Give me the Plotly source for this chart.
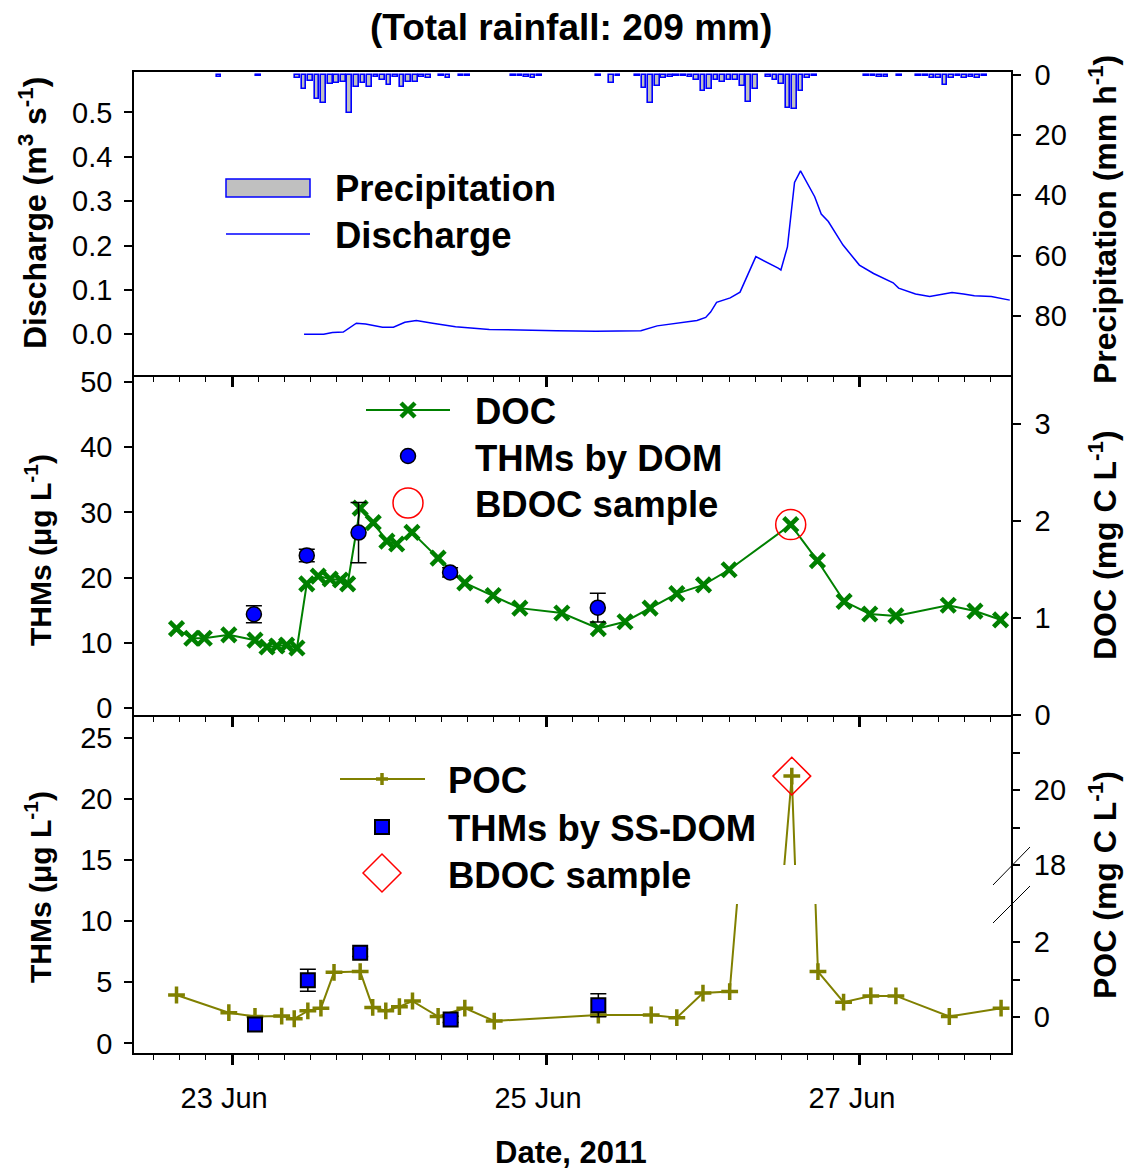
import plotly.graph_objects as go

# ---------------- data ----------------
precip_time = ["2011-06-22 22:00", "2011-06-23 04:00", "2011-06-23 10:00", "2011-06-23 11:00", "2011-06-23 12:00",
               "2011-06-23 13:00", "2011-06-23 14:00", "2011-06-23 15:00", "2011-06-23 16:00", "2011-06-23 17:00",
               "2011-06-23 18:00", "2011-06-23 19:00", "2011-06-23 20:00", "2011-06-23 21:00", "2011-06-23 22:00",
               "2011-06-23 23:00",
               "2011-06-24 00:00", "2011-06-24 01:00", "2011-06-24 02:00", "2011-06-24 03:00", "2011-06-24 04:00",
               "2011-06-24 05:00", "2011-06-24 06:00", "2011-06-24 08:00", "2011-06-24 09:00", "2011-06-24 11:00",
               "2011-06-24 12:00", "2011-06-24 19:00", "2011-06-24 20:00", "2011-06-24 21:00", "2011-06-24 22:00",
               "2011-06-24 23:00",
               "2011-06-25 08:00", "2011-06-25 10:00", "2011-06-25 11:00", "2011-06-25 14:00", "2011-06-25 15:00",
               "2011-06-25 16:00", "2011-06-25 17:00", "2011-06-25 18:00", "2011-06-25 19:00", "2011-06-25 20:00",
               "2011-06-25 21:00", "2011-06-25 22:00", "2011-06-25 23:00",
               "2011-06-26 00:00", "2011-06-26 01:00", "2011-06-26 02:00", "2011-06-26 03:00", "2011-06-26 04:00",
               "2011-06-26 05:00", "2011-06-26 06:00", "2011-06-26 07:00", "2011-06-26 08:00", "2011-06-26 10:00",
               "2011-06-26 11:00", "2011-06-26 12:00", "2011-06-26 13:00", "2011-06-26 14:00", "2011-06-26 15:00",
               "2011-06-26 16:00", "2011-06-26 17:00",
               "2011-06-27 01:00", "2011-06-27 02:00", "2011-06-27 03:00", "2011-06-27 04:00", "2011-06-27 06:00",
               "2011-06-27 09:00", "2011-06-27 10:00", "2011-06-27 11:00", "2011-06-27 12:00", "2011-06-27 13:00",
               "2011-06-27 14:00", "2011-06-27 15:00", "2011-06-27 16:00", "2011-06-27 17:00", "2011-06-27 18:00",
               "2011-06-27 19:00"]
precip_mm = [0.9, 0.4, 1.2, 4.9, 2.1, 7.9, 9.5, 3.2, 2.6, 2.3, 12.8, 4.2, 2.7, 4.2, 0.7, 1.6,
             3.4, 0.7, 4.0, 2.3, 2.3, 0.7, 1.2, 0.3, 1.2, 0.3, 0.3, 0.3, 0.3, 0.7, 1.2, 0.3,
             0.3, 2.9, 0.3, 0.3, 4.3, 9.5, 3.8, 1.2, 0.7, 0.3, 0.3, 0.7, 1.8,
             5.4, 4.9, 1.8, 2.3, 1.8, 1.8, 3.8, 9.0, 4.9, 0.7, 1.8, 3.2, 10.9, 11.5, 5.4, 1.2, 0.3,
             0.3, 0.3, 0.7, 0.7, 0.3, 0.3, 0.3, 1.2, 1.2, 3.4, 1.0, 0.3, 1.0, 0.7, 1.0, 0.3]

q_time = ["2011-06-23 11:00", "2011-06-23 14:00", "2011-06-23 15:20", "2011-06-23 17:00", "2011-06-23 19:00",
          "2011-06-23 20:25", "2011-06-23 23:00", "2011-06-24 00:40", "2011-06-24 02:25", "2011-06-24 04:10",
          "2011-06-24 06:40", "2011-06-24 10:10", "2011-06-24 15:20", "2011-06-24 20:30", "2011-06-25 01:35",
          "2011-06-25 07:35", "2011-06-25 14:30", "2011-06-25 17:00", "2011-06-25 21:20", "2011-06-25 23:05",
          "2011-06-26 00:25", "2011-06-26 01:10", "2011-06-26 02:05", "2011-06-26 04:10", "2011-06-26 05:40",
          "2011-06-26 08:05", "2011-06-26 11:30", "2011-06-26 11:55", "2011-06-26 12:55", "2011-06-26 14:00",
          "2011-06-26 14:55", "2011-06-26 17:05", "2011-06-26 18:05", "2011-06-26 19:10", "2011-06-26 21:25",
          "2011-06-26 23:55", "2011-06-27 02:05", "2011-06-27 05:05", "2011-06-27 05:55", "2011-06-27 08:30",
          "2011-06-27 10:40", "2011-06-27 14:05", "2011-06-27 15:50", "2011-06-27 17:30", "2011-06-27 20:05",
          "2011-06-27 22:55"]
discharge = [0.000, 0.000, 0.004, 0.005, 0.025, 0.023, 0.016, 0.016, 0.027, 0.031,
             0.025, 0.017, 0.011, 0.009, 0.008, 0.007, 0.008, 0.019, 0.027, 0.031,
             0.038, 0.050, 0.072, 0.082, 0.095, 0.175, 0.149, 0.145, 0.197, 0.342,
             0.368, 0.310, 0.271, 0.254, 0.201, 0.156, 0.137, 0.116, 0.104, 0.091,
             0.085, 0.094, 0.091, 0.087, 0.085, 0.077]

doc_time = ["2011-06-22 15:30", "2011-06-22 17:50", "2011-06-22 19:45", "2011-06-22 23:30", "2011-06-23 03:30",
            "2011-06-23 05:20", "2011-06-23 06:50", "2011-06-23 08:20", "2011-06-23 09:55", "2011-06-23 11:25",
            "2011-06-23 13:10", "2011-06-23 15:00", "2011-06-23 16:35", "2011-06-23 17:40", "2011-06-23 19:35",
            "2011-06-23 21:35", "2011-06-23 23:40", "2011-06-24 01:10", "2011-06-24 03:30", "2011-06-24 07:30",
            "2011-06-24 11:35", "2011-06-24 15:55", "2011-06-24 20:00", "2011-06-25 02:25", "2011-06-25 08:00",
            "2011-06-25 12:05", "2011-06-25 15:55", "2011-06-25 20:00", "2011-06-26 00:05", "2011-06-26 04:00",
            "2011-06-26 13:25", "2011-06-26 17:30", "2011-06-26 21:35", "2011-06-27 01:30", "2011-06-27 05:30",
            "2011-06-27 13:30", "2011-06-27 17:35", "2011-06-27 21:30"]
doc = [0.89, 0.79, 0.79, 0.825, 0.77, 0.70, 0.71, 0.72, 0.69, 1.35,
       1.43, 1.40, 1.39, 1.35, 2.13, 1.98, 1.79, 1.76, 1.88, 1.615,
       1.36, 1.23, 1.10, 1.05, 0.89, 0.96, 1.10, 1.25, 1.34, 1.495,
       1.96, 1.59, 1.17, 1.04, 1.02, 1.13, 1.07, 0.98]

thm_dom_time = ["2011-06-23 03:20", "2011-06-23 11:25", "2011-06-23 19:20", "2011-06-24 09:20", "2011-06-25 07:55"]
thm_dom = [14.4, 23.4, 26.9, 20.8, 15.4]
thm_dom_err = [1.3, 0.95, 4.6, 0.7, 2.2]

poc_time = ["2011-06-22 15:30", "2011-06-22 23:30", "2011-06-23 03:30", "2011-06-23 07:35", "2011-06-23 09:30",
            "2011-06-23 11:35", "2011-06-23 13:35", "2011-06-23 15:35", "2011-06-23 19:35", "2011-06-23 21:30",
            "2011-06-23 23:30", "2011-06-24 01:35", "2011-06-24 03:35", "2011-06-24 07:30", "2011-06-24 11:35",
            "2011-06-24 16:05", "2011-06-25 08:00", "2011-06-25 16:05", "2011-06-25 20:00", "2011-06-26 00:00",
            "2011-06-26 04:05", "2011-06-26 13:35", "2011-06-26 17:35", "2011-06-26 21:30", "2011-06-27 01:40",
            "2011-06-27 05:30", "2011-06-27 13:40", "2011-06-27 21:35"]
poc = [0.59, 0.12, 0.02, 0.03, -0.04, 0.17, 0.24, 1.19, 1.21, 0.26,
       0.17, 0.28, 0.43, 0.02, 0.24, -0.10, 0.06, 0.06, -0.01, 0.64,
       0.68, 20.37, 1.21, 0.40, 0.565, 0.565, 0.02, 0.24]

thm_ss_time = ["2011-06-23 03:30", "2011-06-23 11:35", "2011-06-23 19:35", "2011-06-24 09:25", "2011-06-25 08:00"]
thm_ss = [1.55, 5.16, 7.42, 1.96, 3.12]
thm_ss_err = [0.3, 0.9, 0.3, 0.25, 0.95]

x_tick_labels_format = "%d %b"
title_text = "(Total rainfall: 209 mm)"

# ---------------- styling / layout helpers ----------------
FONT = "Liberation Sans, Arial, sans-serif"
BLUE = "#0000FF"
GREEN = "#008000"
OLIVE = "#808000"
RED = "#FF0000"

L, R, T, B = 134, 1011, 72, 1053
W, H = R - L, B - T


def px(x):
    return (x - L) / W


def py(y):
    return (B - y) / H


dom_top = [py(375), 1.0]
dom_mid = [py(715), py(375)]
dom_bot = [0.0, py(715)]
dom_poc_low = [0.0, py(904)]
dom_poc_up = [py(865), py(715)]

x_range = ["2011-06-22 09:00", "2011-06-27 23:06"]

fig = go.Figure()

# top panel
fig.add_trace(go.Bar(x=precip_time, y=precip_mm, xaxis="x", yaxis="y2", width=0.72 * 3600000,
                     marker=dict(color="#C0C0C0", line=dict(color=BLUE, width=1.6))))
fig.add_trace(go.Scatter(x=q_time, y=discharge, xaxis="x", yaxis="y", mode="lines",
                         line=dict(color=BLUE, width=1.5)))

# middle panel
ipk = doc.index(max(doc[25:]))
fig.add_trace(go.Scatter(x=doc_time, y=doc, xaxis="x2", yaxis="y3", mode="lines+markers",
                         line=dict(color=GREEN, width=2),
                         marker=dict(symbol="x-thin", size=14, color=GREEN,
                                     line=dict(color=GREEN, width=4.5))))
fig.add_trace(go.Scatter(x=[doc_time[ipk]], y=[doc[ipk]], xaxis="x2", yaxis="y3", mode="markers",
                         marker=dict(symbol="circle-open", size=30, color=RED, line=dict(color=RED, width=1.5))))
fig.add_trace(go.Scatter(x=thm_dom_time, y=thm_dom, xaxis="x2", yaxis="y4", mode="markers",
                         error_y=dict(type="data", array=thm_dom_err, color="black", thickness=1.5, width=8),
                         marker=dict(symbol="circle", size=15, color=BLUE, line=dict(color="black", width=1.5))))

# bottom panel (broken POC axis: same series on a lower and an upper axis)
jpk = poc.index(max(poc))
for ya in ["y5", "y6"]:
    fig.add_trace(go.Scatter(x=poc_time, y=poc, xaxis="x3", yaxis=ya, mode="lines+markers",
                             line=dict(color=OLIVE, width=2),
                             marker=dict(symbol="cross-thin", size=12, color=OLIVE,
                                         line=dict(color=OLIVE, width=3.5))))
fig.add_trace(go.Scatter(x=[poc_time[jpk]], y=[poc[jpk]], xaxis="x3", yaxis="y6", mode="markers",
                         marker=dict(symbol="diamond-open", size=29, color=RED, line=dict(color=RED, width=1.5))))
fig.add_trace(go.Scatter(x=thm_ss_time, y=thm_ss, xaxis="x3", yaxis="y7", mode="markers",
                         error_y=dict(type="data", array=thm_ss_err, color="black", thickness=1.5, width=8),
                         marker=dict(symbol="square", size=14, color=BLUE, line=dict(color="black", width=2))))

tickfont = dict(family=FONT, size=29, color="black")

xcommon = dict(type="date", range=x_range, showgrid=False, zeroline=False, showline=True,
               linecolor="black", linewidth=1.5, ticks="outside", ticklen=10, tickwidth=2.5,
               tickcolor="black", tick0="2011-06-23", dtick=2 * 86400000,
               minor=dict(ticks="outside", ticklen=5, tickwidth=1, tickcolor="black",
                          dtick=4 * 3600000, tick0="2011-06-23", showgrid=False),
               tickfont=tickfont, domain=[0, 1])

ycommon = dict(showgrid=False, zeroline=False, showline=True, linecolor="black", linewidth=1.5,
               ticks="outside", ticklen=8, tickwidth=1.5, tickcolor="black", tickfont=tickfont)

RS = 8  # right tick-label standoff

fig.update_layout(
    width=1126, height=1171,
    margin=dict(l=L, r=1126 - R, t=T, b=1171 - B),
    paper_bgcolor="white", plot_bgcolor="rgba(0,0,0,0)",
    showlegend=False, bargap=0,
    xaxis=dict(xcommon, anchor="y", mirror=True, showticklabels=False),
    xaxis2=dict(xcommon, anchor="y3", showticklabels=False),
    xaxis3=dict(xcommon, anchor="y7", showticklabels=True, tickformat=x_tick_labels_format,
                ticklabelstandoff=8, ticklabelshift=-8),
    yaxis=dict(ycommon, domain=dom_top, anchor="x", side="left", range=[-0.0917, 0.591],
               dtick=0.1, tick0=0, tickformat=".1f", ticklabelstandoff=6),
    yaxis2=dict(ycommon, overlaying="y", anchor="x", side="right", range=[99.6, -0.9],
                dtick=20, tick0=0, ticklabelstandoff=RS),
    yaxis3=dict(ycommon, domain=dom_mid, anchor="x2", side="right", range=[0, 3.5],
                dtick=1, tick0=0, ticklabelstandoff=RS),
    yaxis4=dict(ycommon, overlaying="y3", anchor="x2", side="left", range=[-1.03, 51.03],
                dtick=10, tick0=0, ticklabelstandoff=6),
    yaxis5=dict(ycommon, domain=dom_poc_low, anchor="x3", side="right", range=[-0.947, 3.0],
                showline=False, tickvals=[0, 2],
                minor=dict(tickvals=[1], ticks="outside", ticklen=8, tickwidth=1.5, tickcolor="black"),
                ticklabelstandoff=RS),
    yaxis6=dict(ycommon, domain=dom_poc_up, anchor="x3", side="right", range=[18, 22],
                showline=False, tickvals=[18, 20],
                minor=dict(tickvals=[19, 21], ticks="outside", ticklen=8, tickwidth=1.5, tickcolor="black"),
                ticklabelstandoff=RS),
    yaxis7=dict(ycommon, domain=dom_bot, anchor="x3", side="left", mirror=True, range=[-0.79, 26.88],
                dtick=5, tick0=0, ticklabelstandoff=6),
)

# ---------------- text: titles ----------------
def note(text, x, y, size, angle=0, xanchor="center", bold=True):
    fig.add_annotation(text=text, x=px(x), y=py(y), xref="paper", yref="paper", showarrow=False,
                       textangle=angle, xanchor=xanchor, yanchor="middle",
                       font=dict(family=FONT, size=size, color="black", weight="bold" if bold else "normal"))


note(title_text, 571, 27, 37)
note("Date, 2011", 571, 1152, 31)
note("Discharge (m<sup>3</sup> s<sup>-1</sup>)", 33, 213, 32, angle=-90)
note("Precipitation (mm h<sup>-1</sup>)", 1103, 220, 32, angle=-90)
note("THMs (μg L<sup>-1</sup>)", 38, 550, 30, angle=-90)
note("DOC (mg C L<sup>-1</sup>)", 1103, 545, 32, angle=-90)
note("THMs (μg L<sup>-1</sup>)", 38, 887, 30, angle=-90)
note("POC (mg C L<sup>-1</sup>)", 1103, 885, 32, angle=-90)

# ---------------- in-panel legends (keys drawn in paper space) ----------------
def pline(x0, y0, x1, y1, color, width):
    fig.add_shape(type="line", xref="paper", yref="paper", x0=px(x0), y0=py(y0), x1=px(x1), y1=py(y1),
                  line=dict(color=color, width=width))


def prect(x0, y0, x1, y1, fill, color, width, kind="rect"):
    fig.add_shape(type=kind, xref="paper", yref="paper", x0=px(x0), y0=py(y1), x1=px(x1), y1=py(y0),
                  fillcolor=fill, line=dict(color=color, width=width))


LEG = 36.5
# top
prect(226, 179, 310, 197, "#C0C0C0", BLUE, 1.5)
note("Precipitation", 333, 189, LEG, xanchor="left")
pline(226, 234, 310, 234, BLUE, 1.5)
note("Discharge", 333, 235, LEG, xanchor="left")
# middle
pline(366, 410, 450, 410, GREEN, 2)
pline(401, 403, 415, 417, GREEN, 4.5)
pline(401, 417, 415, 403, GREEN, 4.5)
note("DOC", 473, 411, LEG, xanchor="left")
prect(400.5, 448.5, 415.5, 463.5, BLUE, "black", 1.5, kind="circle")
note("THMs by DOM", 473, 458, LEG, xanchor="left")
prect(393, 488, 423, 518, "rgba(0,0,0,0)", RED, 1.5, kind="circle")
note("BDOC sample", 473, 505, LEG, xanchor="left")
# bottom
pline(340, 779, 425, 779, OLIVE, 2)
pline(376, 779, 388, 779, OLIVE, 3.5)
pline(382, 773, 382, 785, OLIVE, 3.5)
note("POC", 446, 780, LEG, xanchor="left")
prect(375, 820, 389, 834, BLUE, "black", 2)
note("THMs by SS-DOM", 446, 828, LEG, xanchor="left")
fig.add_shape(type="path", xref="paper", yref="paper",
              path="M {a},{b} L {c},{d} L {e},{b} L {c},{f} Z".format(
                  a=px(363), b=py(873), c=px(382), d=py(854), e=px(401), f=py(892)),
              line=dict(color=RED, width=1.5), fillcolor="rgba(0,0,0,0)")
note("BDOC sample", 446, 875, LEG, xanchor="left")

# axis-break marks on the right POC axis
pline(993, 885, 1030, 847, "black", 1)
pline(993, 923, 1030, 886, "black", 1)

fig.write_html("out.html", config={"displayModeBar": False},
               post_script="document.body.style.margin='0px';")
